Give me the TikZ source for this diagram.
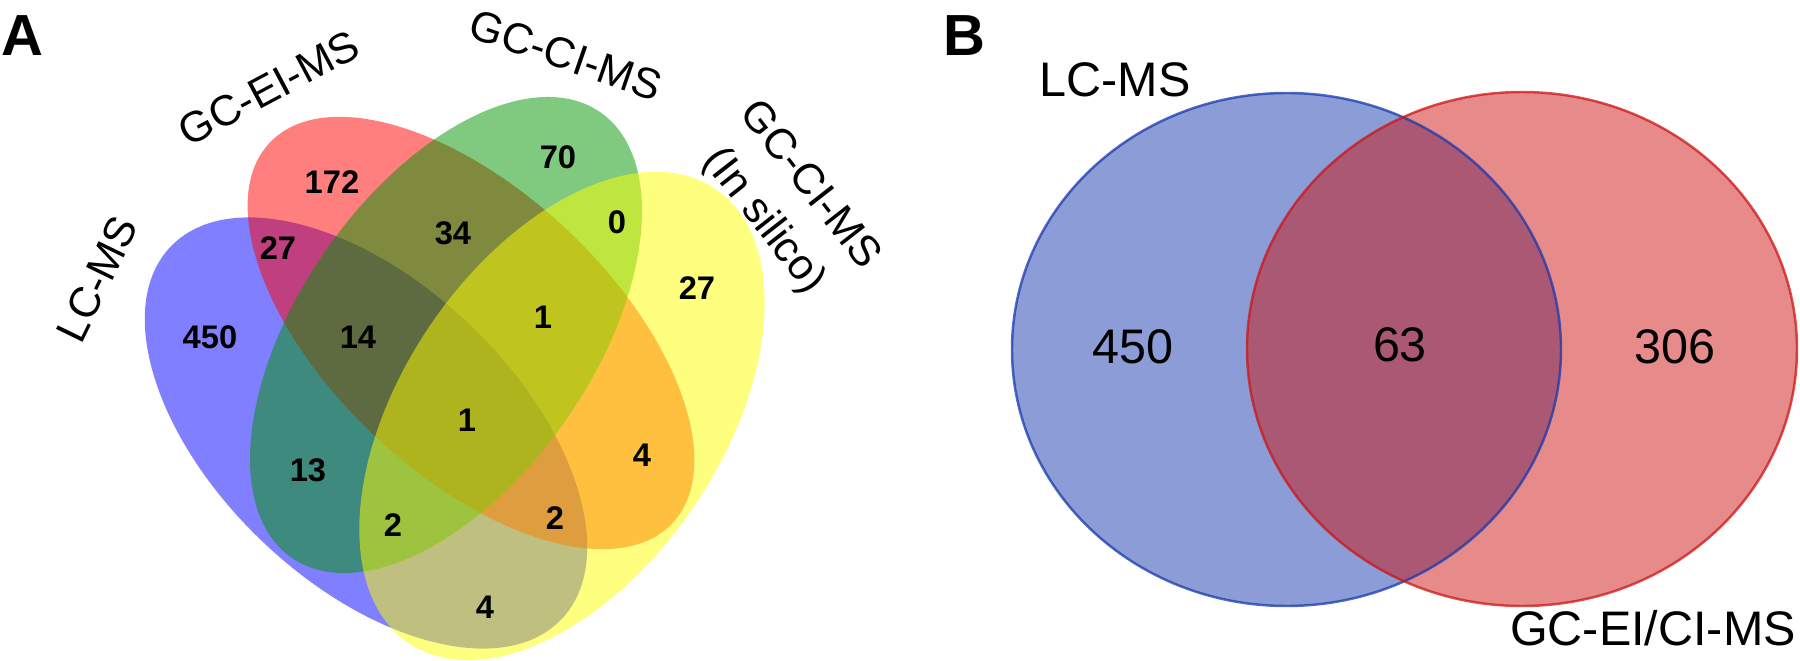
\documentclass[tikz,border=0pt]{standalone}
\usepackage{fontspec}
\setmainfont{Liberation Sans}
\definecolor{setLC}{RGB}{0,0,255}
\definecolor{setEI}{RGB}{255,0,0}
\definecolor{setCI}{RGB}{0,150,0}
\definecolor{setSI}{RGB}{255,255,0}
\definecolor{twoLC}{RGB}{23,57,173}
\definecolor{twoGC}{RGB}{205,21,21}
\begin{document}
\begin{tikzpicture}[
  num/.style={font=\bfseries\fontsize{9.3}{11}\selectfont},
  setname/.style={font=\fontsize{12.2}{16.5}\selectfont,inner sep=1pt},
  twoname/.style={font=\fontsize{13.8}{17}\selectfont},
  panel/.style={font=\bfseries\fontsize{16.5}{20}\selectfont},
  bignum/.style={font=\fontsize{13.8}{17}\selectfont},
  petal/.style={fill opacity=0.5}
]
\useasboundingbox (0,0) rectangle (18,-6.61);

% A: four sets
\fill[setLC,petal,rotate around={-43.6:(3.66,-4.33)}] (3.66,-4.33) ellipse (2.70 and 1.50);
\fill[setEI,petal,rotate around={-43.4:(4.71,-3.33)}] (4.71,-3.33) ellipse (2.77 and 1.41);
\fill[setCI,petal,rotate around={55.3:(4.46,-3.35)}] (4.46,-3.35) ellipse (2.71 and 1.47);
\fill[setSI,petal,rotate around={56:(5.62,-4.16)}] (5.62,-4.16) ellipse (2.74 and 1.60);

\node[panel] (pa) at (0.22,-0.36) {A};
\node[setname,rotate=64] (lcA) at (0.97,-2.79) {LC-MS};
\node[setname,rotate=28] (ei) at (2.69,-0.88) {GC-EI-MS};
\node[setname,rotate=-19] (ci) at (5.66,-0.55) {GC-CI-MS};
\node[setname,rotate=-52,align=center] (si) at (7.86,-2.04) {GC-CI-MS\\(In silico)};

\node[num] (a) at (2.10,-3.37) {450};
\node[num] (ab) at (2.78,-2.48) {27};
\node[num] (b) at (3.32,-1.82) {172};
\node[num] (abc) at (3.58,-3.37) {14};
\node[num] (bc) at (4.53,-2.33) {34};
\node[num] (c) at (5.58,-1.57) {70};
\node[num] (cd) at (6.17,-2.22) {0};
\node[num] (bcd) at (5.43,-3.17) {1};
\node[num] (d) at (6.97,-2.88) {27};
\node[num] (abcd) at (4.67,-4.20) {1};
\node[num] (ac) at (3.08,-4.70) {13};
\node[num] (acd) at (3.93,-5.25) {2};
\node[num] (abd) at (5.55,-5.18) {2};
\node[num] (bd) at (6.42,-4.55) {4};
\node[num] (ad) at (4.85,-6.07) {4};

% B: two sets
\fill[twoLC,petal] (12.865,-3.495) ellipse (2.745 and 2.565);
\fill[twoGC,petal] (15.22,-3.49) ellipse (2.75 and 2.57);
\draw[twoLC,draw opacity=0.75,line width=0.7pt] (12.865,-3.495) ellipse (2.745 and 2.565);
\draw[twoGC,draw opacity=0.75,line width=0.7pt] (15.22,-3.49) ellipse (2.75 and 2.57);

\node[panel] (pb) at (9.64,-0.36) {B};
\node[twoname] (lcB) at (11.15,-0.80) {LC-MS};
\node[twoname] (gcB) at (16.53,-6.28) {GC-EI/CI-MS};
\node[bignum] (onlyLC) at (11.33,-3.47) {450};
\node[bignum] (both) at (14.00,-3.45) {63};
\node[bignum] (onlyGC) at (16.75,-3.47) {306};
\end{tikzpicture}
\end{document}
